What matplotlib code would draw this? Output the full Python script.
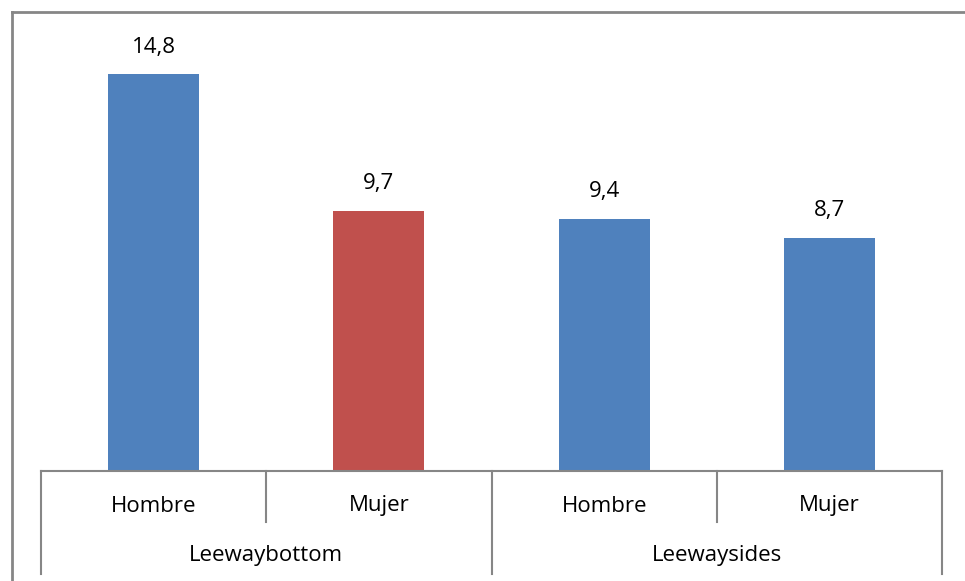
import matplotlib
matplotlib.use('Agg')
import matplotlib.pyplot as plt
from matplotlib.lines import Line2D

# --- data ---
groups = ['Leewaybottom', 'Leewaysides']
sexes = ['Hombre', 'Mujer']
values = [14.8, 9.7, 9.4, 8.7]
bar_colors = ['#4F81BD', '#C0504D', '#4F81BD', '#4F81BD']

GRAY = '#868686'
FONT = ['Open Sans', 'DejaVu Sans']
plt.rcParams['font.family'] = FONT
FS = 16

W, H = 965, 581
fig = plt.figure(figsize=(W / 100, H / 100), dpi=100)
fig.patch.set_facecolor('white')

# plot area in pixels: x 41..942, baseline at 471, 16 units tall
left, right, base, top = 41, 942, 471, 42
ax = fig.add_axes([left / W, (H - base) / H, (right - left) / W, (base - top) / H])
ax.set_xlim(0, len(values))
ax.set_ylim(0, 16)
for s in ax.spines.values():
    s.set_visible(False)
ax.set_xticks([])
ax.set_yticks([])

xs = [i + 0.5 for i in range(len(values))]
bars = ax.bar(xs, values, width=0.405, color=bar_colors, zorder=2)

for b, v in zip(bars, values):
    ax.annotate(f'{v:.1f}'.replace('.', ','),
                (b.get_x() + b.get_width() / 2, v),
                xytext=(0, 12), textcoords='offset points',
                ha='center', va='bottom', fontsize=FS, color='black')

# multi-level category axis
axh = base - top
tr = ax.get_xaxis_transform()
short = -(522 - base) / axh
long_ = -(574 - base) / axh
ax.plot([0, len(values)], [0, 0], transform=tr, color=GRAY, lw=1.5, clip_on=False)
for i in range(len(values) + 1):
    y1 = long_ if i % 2 == 0 else short
    ax.plot([i, i], [0, y1], transform=tr, color=GRAY, lw=1.5, clip_on=False)

for i, x in enumerate(xs):
    ax.text(x, -(506 - base) / axh, sexes[i % 2], transform=tr,
            ha='center', va='center', fontsize=FS)
for g, name in enumerate(groups):
    ax.text(2 * g + 1, -(556 - base) / axh, name, transform=tr,
            ha='center', va='center', fontsize=FS)

# chart frame (left and top edges)
fx, fy = 12 / W, 1 - 12 / H
fig.add_artist(Line2D([fx, fx], [0, fy], transform=fig.transFigure, color=GRAY, lw=2))
fig.add_artist(Line2D([fx, 1], [fy, fy], transform=fig.transFigure, color=GRAY, lw=2))

fig.savefig('out.png', dpi=100, facecolor='white')
